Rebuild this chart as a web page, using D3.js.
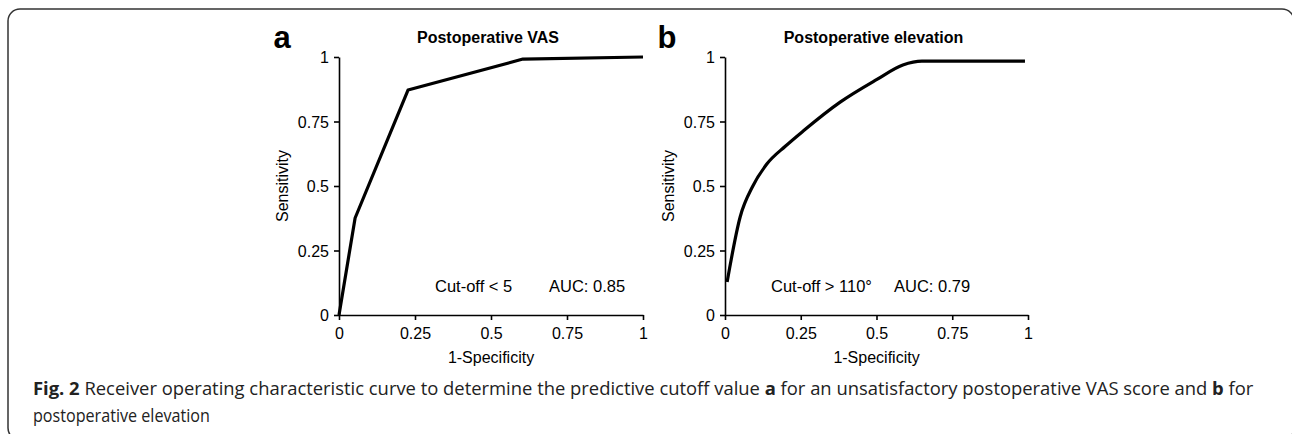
<!DOCTYPE html>
<html><head><meta charset="utf-8">
<script src="https://cdn.jsdelivr.net/npm/d3@7"></script>
<style>
body{margin:0;background:#fff;}
svg{display:block;}
</style></head>
<body>
<svg id="c" width="1292" height="434"></svg>
<script>
// Data
const vasFpr = [0, 0.053, 0.227, 0.605, 1.0];
const vasTpr = [0, 0.376, 0.872, 0.992, 1.0];
const elevFpr = [0.007, 0.05, 0.092, 0.138, 0.2, 0.26, 0.38, 0.5, 0.587, 0.65, 0.99];
const elevTpr = [0.128, 0.38, 0.50, 0.585, 0.655, 0.715, 0.825, 0.912, 0.969, 0.984, 0.984];
const tickValues = [0, 0.25, 0.5, 0.75, 1];
const tickLabels = ["0", "0.25", "0.5", "0.75", "1"];
const panels = [
  {letter: "a", title: "Postoperative VAS", cutoff: "Cut-off < 5", auc: "AUC: 0.85", fpr: vasFpr, tpr: vasTpr, curve: "linear"},
  {letter: "b", title: "Postoperative elevation", cutoff: "Cut-off > 110°", auc: "AUC: 0.79", fpr: elevFpr, tpr: elevTpr, curve: "monotone"}
];

const svg = d3.select("#c");
const font = "'Liberation Sans', Arial, sans-serif";
const fs = 16;

// frame
svg.append("rect").attr("x", 8).attr("y", 9).attr("width", 1286).attr("height", 431)
  .attr("rx", 12).attr("fill", "none").attr("stroke", "#333").attr("stroke-width", 1.5);

const layout = [
  {x0: 339, x1: 643, letterX: 282, cutX: 435, aucX: 549},
  {x0: 725, x1: 1028, letterX: 667, cutX: 771, aucX: 894}
];
const yTop = 57, yBot = 315;

panels.forEach((p, i) => {
  const L = layout[i];
  const x = d3.scaleLinear().domain([0, 1]).range([L.x0, L.x1]);
  const y = d3.scaleLinear().domain([0, 1]).range([yBot, yTop]);
  const g = svg.append("g");

  const xAxis = d3.axisBottom(x).tickValues(tickValues).tickFormat((d, k) => tickLabels[k]).tickSize(5).tickSizeOuter(0).tickPadding(8);
  const yAxis = d3.axisLeft(y).tickValues(tickValues).tickFormat((d, k) => tickLabels[k]).tickSize(5).tickSizeOuter(0).tickPadding(5);

  const gx = g.append("g").attr("transform", `translate(0,${yBot})`).call(xAxis);
  const gy = g.append("g").attr("transform", `translate(${L.x0},0)`).call(yAxis);
  [gx, gy].forEach(a => {
    a.select(".domain").attr("stroke", "#000").attr("stroke-width", 1.6);
    a.selectAll(".tick line").attr("stroke", "#000").attr("stroke-width", 1.6);
    a.selectAll(".tick text").attr("font-family", font).attr("font-size", fs).attr("fill", "#000");
  });
  gy.selectAll(".tick text").attr("dy", "0.36em");

  // curve
  const line = d3.line()
    .x(d => x(d[0])).y(d => y(d[1]))
    .curve(p.curve === "linear" ? d3.curveLinear : d3.curveMonotoneX);
  g.append("path").datum(p.fpr.map((f, k) => [f, p.tpr[k]]))
    .attr("d", line).attr("fill", "none").attr("stroke", "#000")
    .attr("stroke-width", 3.2).attr("stroke-linejoin", "round");

  // texts
  g.append("text").attr("x", (L.x0 + L.x1) / 2 - 3).attr("y", 43).attr("text-anchor", "middle")
    .attr("font-family", font).attr("font-weight", "bold").attr("font-size", fs).text(p.title);
  g.append("text").attr("x", L.letterX).attr("y", 48).attr("text-anchor", "middle")
    .attr("font-family", font).attr("font-weight", "bold").attr("font-size", 31).text(p.letter);
  g.append("text").attr("x", (L.x0 + L.x1) / 2).attr("y", 363).attr("text-anchor", "middle")
    .attr("font-family", font).attr("font-size", fs).text("1-Specificity");
  g.append("text").attr("transform", `translate(${L.x0 - 51},${(yTop + yBot) / 2}) rotate(-90)`)
    .attr("text-anchor", "middle").attr("font-family", font).attr("font-size", fs).text("Sensitivity");
  g.append("text").attr("x", L.cutX).attr("y", 292).attr("font-family", font).attr("font-size", 16.5).text(p.cutoff);
  g.append("text").attr("x", L.aucX).attr("y", 292).attr("font-family", font).attr("font-size", 16.5).text(p.auc);
});

// caption (condensed horizontally to the reference width)
const capFont = "'Open Sans', sans-serif";
function captionLine(yPos, targetW, parts) {
  const t = svg.append("text").attr("x", 0).attr("y", 0)
    .attr("font-family", capFont).attr("font-size", 18.5).attr("fill", "#222");
  parts.forEach(pt => t.append("tspan").attr("font-weight", pt[1] ? "bold" : "normal").text(pt[0]));
  const w = t.node().getBBox().width;
  t.attr("transform", `translate(33,${yPos}) scale(${targetW / w},1)`);
}
captionLine(395, 1222, [
  ["Fig. 2", true],
  [" Receiver operating characteristic curve to determine the predictive cutoff value ", false],
  ["a", true],
  [" for an unsatisfactory postoperative VAS score and ", false],
  ["b", true],
  [" for", false]
]);
captionLine(422, 177, [["postoperative elevation", false]]);
</script>
</body></html>
